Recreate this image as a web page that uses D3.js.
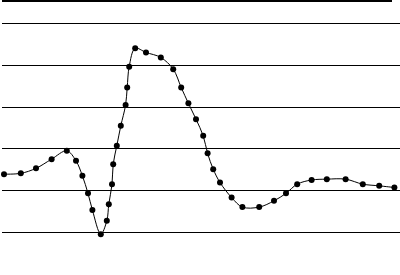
<!DOCTYPE html>
<html lang="en">
<head>
    <meta charset="UTF-8">
    <title>Line with dots</title>
    <script src="https://d3js.org/d3.v7.min.js"></script>
    <style>
        body {
            margin: 0;
            background-color: #fff;
        }
        svg {
            display: block;
        }
        .grid line {
            stroke: #000;
            stroke-width: 1;
            shape-rendering: crispEdges;
        }
        .curve {
            fill: none;
            stroke: #000;
            stroke-width: 1;
        }
        .dot {
            fill: #000;
        }
    </style>
</head>
<body>

<svg></svg>

<script>
    const svgWidth = 400;
    const svgHeight = 275;

    // sample positions along the x axis
    const xValues = [1.0, 5.2, 9.0, 12.9, 16.7, 19.0, 20.6, 22.0, 23.1, 25.2,
        26.7, 27.2, 28.0, 28.3, 29.2, 30.2, 31.4, 31.8, 32.3, 33.8,
        36.5, 40.2, 43.3, 45.3, 47.1, 49.0, 50.8, 51.9, 53.3, 55.0,
        57.9, 60.6, 64.8, 68.5, 71.5, 74.3, 77.9, 81.7, 86.4, 90.7,
        94.8, 98.6];

    // measured values
    const yValues = [0.38, 0.40, 0.52, 0.74, 0.94, 0.70, 0.34, -0.08, -0.48, -1.06,
        -0.74, -0.34, 0.14, 0.62, 1.06, 1.54, 2.04, 2.46, 2.96, 3.40,
        3.30, 3.18, 2.90, 2.46, 2.08, 1.70, 1.30, 0.88, 0.50, 0.18,
        -0.18, -0.41, -0.41, -0.26, -0.08, 0.14, 0.24, 0.26, 0.26, 0.14,
        0.10, 0.06];

    // horizontal grid lines
    const gridValues = [-1, 0, 1, 2, 3, 4];

    const data = xValues.map((x, i) => ({x: x, y: yValues[i]}));

    const svg = d3.select("svg")
        .attr("width", svgWidth)
        .attr("height", svgHeight);

    const xScale = d3.scaleLinear()
        .domain([0, 100])
        .range([0, 400]);

    const yScale = d3.scaleLinear()
        .domain([0, 4])
        .range([190, 23.3]);

    // grid, drawn with a right axis turned into long ticks
    svg.append("g")
        .attr("class", "grid")
        .attr("transform", `translate(${xScale(100)}, 0)`)
        .call(d3.axisLeft(yScale)
            .tickValues(gridValues)
            .tickSize(xScale(100) - xScale(0.5))
            .tickFormat(""))
        .call(g => g.select(".domain").remove());

    // thick top border
    svg.append("line")
        .attr("x1", xScale(0.5))
        .attr("x2", xScale(98))
        .attr("y1", 1)
        .attr("y2", 1)
        .attr("stroke", "#000")
        .attr("stroke-width", 2)
        .attr("shape-rendering", "crispEdges");

    const line = d3.line()
        .x(d => xScale(d.x))
        .y(d => yScale(d.y))
        .curve(d3.curveCatmullRom);

    svg.append("path")
        .datum(data)
        .attr("class", "curve")
        .attr("d", line);

    svg.selectAll(".dot")
        .data(data)
        .enter()
        .append("circle")
        .attr("class", "dot")
        .attr("cx", d => xScale(d.x))
        .attr("cy", d => yScale(d.y))
        .attr("r", 3);
</script>

</body>
</html>
